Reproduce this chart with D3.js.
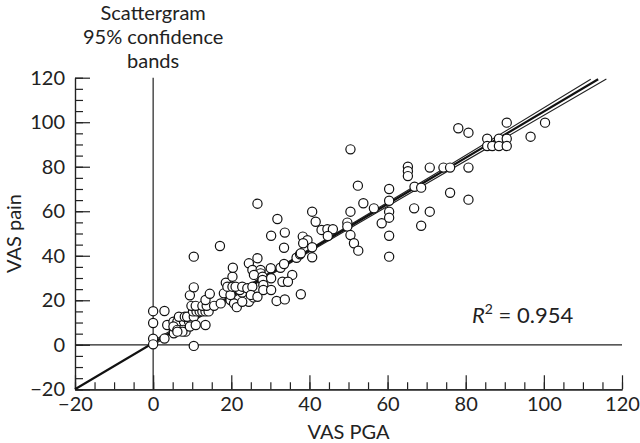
<!DOCTYPE html>
<html><head><meta charset="utf-8">
<script src="https://cdn.jsdelivr.net/npm/d3@7"></script>
<style>
html,body{margin:0;padding:0;background:#fff;}
text{font-family:"Lato","DejaVu Sans",sans-serif;fill:#222;}
</style></head>
<body><svg id="c" width="640" height="443"></svg>
<script>
const xTicks = [-20, 0, 20, 40, 60, 80, 100, 120];
const yTicks = [-20, 0, 20, 40, 60, 80, 100, 120];
const titleLines = ["Scattergram", "95% confidence", "bands"];
const xLabel = "VAS PGA";
const yLabel = "VAS pain";
const r2Text = "0.954";

const pga = [0,0,0,0,2.9,3.6,2.9,5.3,5.3,5.2,6.2,7.9,9.2,6.6,8.1,8.7,10.4,5.2,6.2,7.7,8.3,7.5,6.2,9.4,10.9,13.4,
 10.2,11.1,11.9,12.6,13.4,14.2,9.8,10.9,12.6,13.7,13.4,14.5,9.4,10.4,10.4,10.4,17.1,
 15.6,17.3,19.8,20.7,21.4,22.8,22.2,24.5,22.8,25.7,18.1,19.8,18.6,19.0,20.3,20.3,21.1,22.8,24.1,25.4,25.0,26.7,
 20.4,24.5,26.7,25.4,27.5,27.5,25.8,28.0,28.0,28.2,28.2,
 26.7,31.8,30.2,33.7,33.5,30.1,32.6,33.5,35.6,30.2,33.1,34.5,30.2,31.6,33.7,37.8,36.7,37.6,38.3,39.5,38.4,40.7,40.7,37.8,
 40.7,41.6,43.1,44.6,46.0,44.7,
 50.5,52.4,53.8,56.5,50.5,49.7,49.7,50.5,51.4,52.5,58.5,
 60.4,60.4,60.4,60.4,60.4,60.4,65.2,65.2,65.2,66.9,68.6,66.8,68.6,70.8,70.8,74.3,76.0,76.0,78.1,80.7,80.7,80.7,
 85.5,88.5,90.5,85.5,86.8,88.5,90.5,90.5,96.6,100.3];
const pain = [15.1,9.8,2.7,0.2,15.2,8.9,2.8,6.6,5.2,10.4,10.4,10.4,10.4,12.6,12.6,12.6,12.6,8.2,6.7,6.7,5.9,5.9,5.9,8.2,8.9,8.9,
 15,15,15,15,15,15,17.5,17.5,17.5,17.5,20.1,22.9,22.2,25.8,-0.5,39.6,44.4,
 17.5,18.6,20.1,18.6,16.9,23.5,24.6,19.3,19.3,21.3,23.1,22.4,27.9,26.1,30.6,26.1,26.1,26.1,25.4,26.1,22.4,21.6,
 34.6,36.6,38.9,33.6,33.6,32.1,31.4,30.6,29.1,26.9,24.6,
 63.4,56.5,49.0,50.4,43.6,34.4,34.6,36.3,31.4,29.9,28.3,28.3,24.6,19.7,20.4,22.7,39.1,40.7,48.6,47.0,45.6,43.8,39.3,41.1,
 59.8,55.3,51.6,51.9,51.9,48.9,
 87.8,71.5,63.6,61.3,59.8,54.9,53.1,49.3,45.6,42.3,54.6,
 70.0,64.7,59.8,57.1,49.0,39.6,80.0,78.0,75.8,71.0,70.6,61.3,53.5,79.6,59.8,79.6,79.6,68.3,97.3,95.3,79.6,65.2,
 92.6,92.6,92.6,89.3,89.3,89.3,89.3,99.8,93.5,99.8];

// regression line and 95% confidence bands
const fitX = [-20, 113.9];
const fitY = [-20, 119.3];
const upperX = [0, 35, 70, 112];
const upperY = [1.7, 37.8, 74.5, 119.3];
const lowerX = [0, 35, 70, 116];
const lowerY = [-0.1, 36.6, 72.5, 119.4];

const svg = d3.select("#c");
const x = d3.scaleLinear().domain([-20, 120]).range([75, 622]);
const y = d3.scaleLinear().domain([-20, 120]).range([389.3, 77.7]);
const ink = "#222";
const fs = 20;
const ff = "Lato,'DejaVu Sans',sans-serif";

// minor ticks
const minor = d3.range(-20, 121, 5);
svg.append("g").attr("transform", `translate(${x(-20)},0)`)
  .call(d3.axisLeft(y).tickValues(minor).tickSizeInner(-8).tickSizeOuter(0).tickFormat(""))
  .call(g => g.selectAll("line,path").attr("stroke", ink).attr("stroke-width", 1.2));
svg.append("g").attr("transform", `translate(0,${y(-20)})`)
  .call(d3.axisBottom(x).tickValues(minor).tickSizeInner(-7).tickSizeOuter(0).tickFormat(""))
  .call(g => g.selectAll("line,path").attr("stroke", ink).attr("stroke-width", 1.2));
// major ticks
svg.append("g").attr("transform", `translate(${x(-20)},0)`)
  .call(d3.axisLeft(y).tickValues(yTicks).tickSizeInner(-15).tickSizeOuter(0).tickPadding(10))
  .call(g => g.selectAll("line,path").attr("stroke", ink).attr("stroke-width", 1.2))
  .call(g => g.selectAll("text").attr("font-size", fs).attr("fill", ink).style("font-family", ff));
svg.append("g").attr("transform", `translate(0,${y(-20)})`)
  .call(d3.axisBottom(x).tickValues(xTicks).tickSizeInner(-14).tickSizeOuter(0).tickPadding(8))
  .call(g => g.selectAll("line,path").attr("stroke", ink).attr("stroke-width", 1.2))
  .call(g => g.selectAll("text").attr("font-size", fs).attr("fill", ink).style("font-family", ff));

// zero lines
svg.append("line").attr("x1", x(-20)).attr("x2", x(120)).attr("y1", y(0)).attr("y2", y(0))
  .attr("stroke", ink).attr("stroke-width", 1.2);
svg.append("line").attr("x1", x(0)).attr("x2", x(0)).attr("y1", y(120)).attr("y2", y(-20))
  .attr("stroke", ink).attr("stroke-width", 1.2);

// lines
const line = d3.line().x(d => x(d[0])).y(d => y(d[1]));
const lineC = d3.line().x(d => x(d[0])).y(d => y(d[1])).curve(d3.curveNatural);
svg.append("path").attr("d", lineC(upperX.map((v, i) => [v, upperY[i]])))
  .attr("fill", "none").attr("stroke", ink).attr("stroke-width", 1.1);
svg.append("path").attr("d", lineC(lowerX.map((v, i) => [v, lowerY[i]])))
  .attr("fill", "none").attr("stroke", ink).attr("stroke-width", 1.1);
svg.append("path").attr("d", line(fitX.map((v, i) => [v, fitY[i]])))
  .attr("fill", "none").attr("stroke", "#111").attr("stroke-width", 2.2);

// points
svg.append("g").selectAll("circle").data(pga.map((v, i) => [v, pain[i]])).join("circle")
  .attr("cx", d => x(d[0])).attr("cy", d => y(d[1])).attr("r", 4.6)
  .attr("fill", "#fff").attr("stroke", "#111").attr("stroke-width", 1.2);

// title
svg.append("g").selectAll("text").data(titleLines).join("text")
  .attr("x", x(0)).attr("y", (d, i) => 20 + i * 24).attr("text-anchor", "middle")
  .attr("font-size", 20).text(d => d);

// axis labels
svg.append("text").attr("x", (x(-20) + x(120)) / 2).attr("y", 439).attr("text-anchor", "middle")
  .attr("font-size", 20).text(xLabel);
svg.append("text").attr("transform", `translate(21,${(y(-20) + y(120)) / 2}) rotate(-90)`)
  .attr("text-anchor", "middle").attr("font-size", 20).text(yLabel);

// R^2
const rt = svg.append("text").attr("x", 472).attr("y", 323).attr("font-size", 22);
rt.append("tspan").attr("font-style", "italic").text("R");
rt.append("tspan").attr("font-size", 14).attr("dy", -9).text("2");
rt.append("tspan").attr("dy", 9).text(" = " + r2Text);
</script></body></html>
